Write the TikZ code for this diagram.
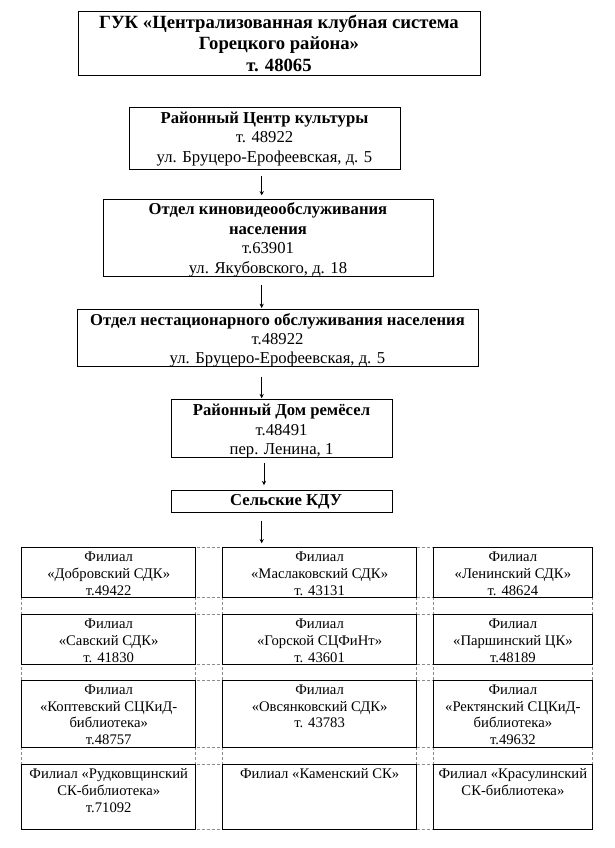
\documentclass[tikz,border=0pt]{standalone}
\usepackage{fontspec}
\setmainfont{Liberation Serif}
\usetikzlibrary{arrows.meta}
% #1 width px, #2 height px, #3 first baseline offset px, #4 content
\newcommand\bx[4]{\parbox[c][\dimexpr#2pt*3/4\relax][t]{\dimexpr#1pt*3/4\relax}{\centering\rule{0pt}{\dimexpr#3pt*3/4\relax}\ignorespaces#4\par}}
\newcommand\fA{\fontsize{14}{16.2}\selectfont\bfseries}
\newcommand\fB{\fontsize{12.5}{14.6}\selectfont}
\newcommand\fG{\fontsize{11}{12.7}\selectfont}
\tikzset{
  box/.style={draw, line width=0.75pt, inner sep=0pt, outer sep=0pt, anchor=north west},
  grid/.style={draw=black!45, line width=0.75pt, dash pattern=on 2.25pt off 1.5pt},
  arr/.style={draw, line width=0.75pt, -{Stealth[length=3.2pt,width=3.2pt]}}
}
\begin{document}
\begin{tikzpicture}[x=0.75pt,y=-0.75pt]
\useasboundingbox (0,0) rectangle (614,848);
% dashed table grid
\foreach \gx in {21.7,195.7,222.5,416.7,433.3,592.5}
  \draw[grid] (\gx,547.3) -- (\gx,829);
\foreach \gy in {547.3,597.3,614.3,664.3,680.5,747.3,764.3,829}
  \draw[grid] (21.7,\gy) -- (592.5,\gy);
% upper chain
\node[box] (top) at (78,12) {\bx{402}{64}{16.3}{\fA ГУК «Централизованная клубная система\\Горецкого района»\\т. 48065}};
\node[box] (rck) at (129,107.3) {\bx{271}{62}{16}{\fB\textbf{Районный Центр культуры}\\т. 48922\\ул. Бруцеро-Ерофеевская, д. 5}};
\node[box] (okv) at (103,200) {\bx{330}{77}{15}{\fB\textbf{Отдел киновидеообслуживания\\населения}\\т.63901\\ул. Якубовского, д. 18}};
\node[box] (ono) at (77,309.7) {\bx{401}{57}{15.3}{\fB\textbf{Отдел нестационарного обслуживания населения}\\т.48922\\ул. Бруцеро-Ерофеевская, д. 5}};
\node[box] (rdr) at (171,399.3) {\bx{221}{58}{16.5}{\fB\textbf{Районный Дом ремёсел}\\т.48491\\пер. Ленина, 1}};
\node[box] (kdu) at (171,490.7) {\bx{221}{21.6}{14.5}{\fB\hspace*{7pt}\textbf{Сельские КДУ}}};
% grid boxes
\node[box] (f11) at (21.7,547.3) {\bx{174}{50}{14.4}{\fG Филиал\\«Добровский СДК»\\т.49422}};
\node[box] (f12) at (222.5,547.3) {\bx{194.2}{50}{14.4}{\fG Филиал\\«Маслаковский СДК»\\т. 43131}};
\node[box] (f13) at (433.3,547.3) {\bx{159.2}{50}{14.4}{\fG Филиал\\«Ленинский СДК»\\т. 48624}};
\node[box] (f21) at (21.7,614.3) {\bx{174}{50}{14.4}{\fG Филиал\\«Савский СДК»\\т. 41830}};
\node[box] (f22) at (222.5,614.3) {\bx{194.2}{50}{14.4}{\fG Филиал\\«Горской СЦФиНт»\\т. 43601}};
\node[box] (f23) at (433.3,614.3) {\bx{159.2}{50}{14.4}{\fG Филиал\\«Паршинский ЦК»\\т.48189}};
\node[box] (f31) at (21.7,680.5) {\bx{174}{66.8}{13.6}{\fG Филиал\\«Коптевский СЦКиД-\\библиотека»\\т.48757}};
\node[box] (f32) at (222.5,680.5) {\bx{194.2}{66.8}{13.6}{\fG Филиал\\«Овсянковский СДК»\\т. 43783}};
\node[box] (f33) at (433.3,680.5) {\bx{159.2}{66.8}{13.6}{\fG Филиал\\«Ректянский СЦКиД-\\библиотека»\\т.49632}};
\node[box] (f41) at (21.7,764.3) {\bx{174}{64.7}{14}{\fG Филиал «Рудковщинский\\СК-библиотека»\\т.71092}};
\node[box] (f42) at (222.5,764.3) {\bx{194.2}{64.7}{14}{\fG Филиал «Каменский СК»}};
\node[box] (f43) at (433.3,764.3) {\bx{159.2}{64.7}{14}{\fG Филиал «Красулинский\\СК-библиотека»}};
% arrows
\coordinate (ax) at (261.7,0);
\coordinate (ax4) at (264,0);
\draw[arr, shorten <=5pt, shorten >=3.5pt] (rck.south -| ax) -- (okv.north -| ax);
\draw[arr, shorten <=6pt, shorten >=1.3pt] (okv.south -| ax) -- (ono.north -| ax);
\draw[arr, shorten <=7.5pt, shorten >=0.8pt] (ono.south -| ax) -- (rdr.north -| ax);
\draw[arr, shorten <=4.3pt, shorten >=4.2pt] (rdr.south -| ax4) -- (kdu.north -| ax4);
\draw[arr, shorten <=6.3pt, shorten >=3pt] (kdu.south -| ax) -- (f12.north -| ax);
\end{tikzpicture}
\end{document}
